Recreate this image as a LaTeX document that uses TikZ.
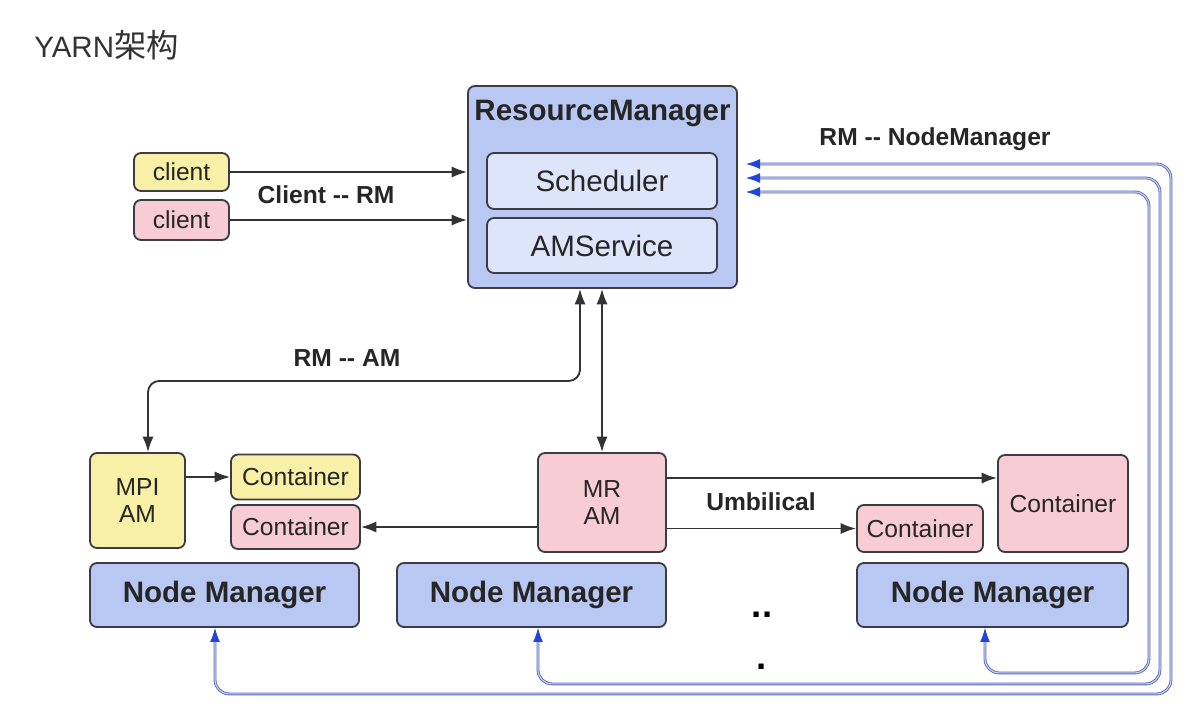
\documentclass[tikz,border=0pt]{standalone}
\usepackage{fontspec}
\setmainfont{Liberation Sans}
\newfontfamily\cjk{Noto Sans CJK SC}
\usetikzlibrary{arrows.meta,calc}

\definecolor{rmblue}{HTML}{B9C8F2}
\definecolor{subblue}{HTML}{DCE5F9}
\definecolor{amyellow}{HTML}{F8F0A6}
\definecolor{ampink}{HTML}{F7CCD4}
\definecolor{boxline}{HTML}{3C3C46}
\definecolor{nmline}{HTML}{5666BC}
\definecolor{nmmid}{HTML}{C9D1F2}
\definecolor{nmtip}{HTML}{2244DD}

\begin{document}
\begin{tikzpicture}[x=0.025cm,y=-0.025cm]
\tikzstyle{box}=[draw=boxline,line width=1.3pt,rounded corners=5pt,inner sep=0pt,align=center,text=black!85]
\tikzstyle{big}=[font=\fontsize{21}{24}\selectfont]
\tikzstyle{bigb}=[font=\fontsize{21}{24}\selectfont\bfseries]
\tikzstyle{small}=[font=\fontsize{17.5}{19}\selectfont]
\tikzstyle{tag}=[font=\fontsize{17.5}{21}\selectfont\bfseries,text=black!85,inner sep=0pt]
\tikzstyle{link}=[line width=1.3pt,draw=black!80,-{Latex[length=11pt,width=8pt]}]
\tikzstyle{dlink}=[line width=1.3pt,draw=black!80,{Latex[length=11pt,width=8pt]}-{Latex[length=11pt,width=8pt]}]
\tikzstyle{nmlink}=[line width=0.6pt,draw=nmline,double=nmmid,double distance=0.8pt,rounded corners=10pt,{Latex[length=10pt,width=7pt,color=nmtip]}-{Latex[length=10pt,width=7pt,color=nmtip]}]

\fill[white] (0,0) rectangle (1203,726);
\useasboundingbox (0,0) rectangle (1203,726);

\node[anchor=west,big,text=black!80,inner sep=0pt] (title) at (34,45) {YARN{\cjk\fontsize{23}{26}\selectfont 架构}};

% resource manager
\node[box,fill=rmblue,minimum width=6.725cm,minimum height=5.05cm] (rm) at (602.5,187) {};
\node[bigb,text=black!85] (rmname) at (602.5,113) {ResourceManager};
\node[box,fill=subblue,big,minimum width=5.75cm,minimum height=1.4cm] (sched) at (602,181) {Scheduler};
\node[box,fill=subblue,big,minimum width=5.75cm,minimum height=1.375cm] (amsvc) at (602,245.5) {AMService};

% clients
\node[box,fill=amyellow,small,minimum width=2.375cm,minimum height=0.95cm] (cl1) at (181.5,172) {client};
\node[box,fill=ampink,small,minimum width=2.375cm,minimum height=1cm] (cl2) at (181.5,220) {client};
\draw[link] (cl1) -- (cl1 -| rm.west);
\draw[link] (cl2) -- (cl2 -| rm.west);
\node[tag] (clrm) at (326,195) {Client -{}- RM};

% application masters and containers
\node[box,fill=amyellow,small,minimum width=2.375cm,minimum height=2.375cm] (mpi) at (137.5,500.5) {MPI\\AM};
\node[box,fill=amyellow,small,minimum width=3.225cm,minimum height=1.125cm] (cty) at (295.5,477) {Container};
\node[box,fill=ampink,small,minimum width=3.225cm,minimum height=1.1cm] (ctp) at (295.5,527) {Container};
\node[box,fill=ampink,small,minimum width=3.2cm,minimum height=2.475cm] (mram) at (602,502.5) {MR\\AM};
\node[box,fill=ampink,small,minimum width=3.15cm,minimum height=1.175cm] (ct2) at (920,528.5) {Container};
\node[box,fill=ampink,small,minimum width=3.25cm,minimum height=2.425cm] (ct3) at (1063,503.5) {Container};

\draw[link] (mpi.east |- cty.west) -- (cty.west);
\draw[link] (mram.west |- ctp.east) -- (ctp.east);
\draw[link] ($(mram.east)+(0,-24.5)$) coordinate (u1) -- (u1 -| ct3.west);
\draw[link] (mram.east |- ct2.west) -- (ct2.west);
\node[tag] (umb) at (761,502) {Umbilical};

% node managers
\node[box,fill=rmblue,bigb,minimum width=6.725cm,minimum height=1.6cm] (nm1) at (224.5,595) {Node Manager};
\node[box,fill=rmblue,bigb,minimum width=6.725cm,minimum height=1.6cm] (nm2) at (531.5,595) {Node Manager};
\node[box,fill=rmblue,bigb,minimum width=6.775cm,minimum height=1.6cm] (nm3) at (992.5,595) {Node Manager};
\node[font=\fontsize{26}{28}\selectfont\bfseries,anchor=base,inner sep=0pt] (dots2) at (762,617) {..};
\node[font=\fontsize{26}{28}\selectfont\bfseries,anchor=base,inner sep=0pt] (dots1) at (762,669) {.};

% RM <-> AM
\draw[dlink] (mram.north) -- (mram.north |- rm.south);
\draw[dlink,rounded corners=8pt] ($(mpi.north)+(10.5,0)$) |- ($(rm.south)+(-22.5,92)$) -- ($(rm.south)+(-22.5,0)$);
\node[tag] (rmam) at (347,358) {RM -{}- AM};

% RM <-> node managers
\draw[nmlink] ($(nm1.south)+(-9.5,0)$) -- ++(0,66) -| ($(rm.east)+(433,-23)$) -- ($(rm.east)+(8,-23)$);
\draw[nmlink] ($(nm2.south)+(6.5,0)$) -- ++(0,56) -| ($(rm.east)+(422,-9)$) -- ($(rm.east)+(8,-9)$);
\draw[nmlink] ($(nm3.south)+(-7.5,0)$) -- ++(0,45) -| ($(rm.east)+(411,5)$) -- ($(rm.east)+(8,5)$);
\node[tag] (rmnm) at (935,139) {RM -{}- NodeManager};
\end{tikzpicture}
\end{document}
